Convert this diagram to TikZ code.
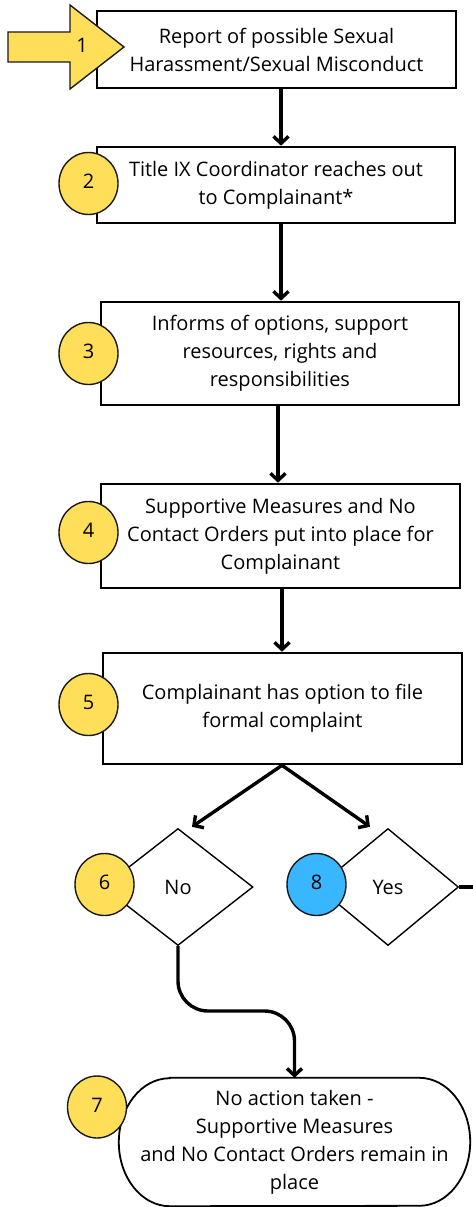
\documentclass[tikz,border=0pt]{standalone}
\usepackage{fontspec}
\setmainfont{Open Sans}
\usetikzlibrary{arrows.meta,shapes.geometric,calc}
\definecolor{ylw}{HTML}{FFDE59}
\definecolor{blu}{HTML}{38B6FF}
\definecolor{ink}{HTML}{1A1A1A}
\begin{document}
\begin{tikzpicture}[x=1pt,y=-1pt,
  font=\fontsize{20}{28}\selectfont,
  box/.style={draw=black,line width=2.6pt,fill=white,align=center,inner sep=0pt},
  num/.style={ellipse,draw=ink,line width=1.4pt,fill=ylw,minimum width=59pt,minimum height=62pt,inner sep=0pt,text depth=4pt},
  dec/.style={diamond,draw=black,line width=1.4pt,fill=white,inner sep=0pt,minimum height=117pt},
  arr/.style={line width=3.4pt,-{Straight Barb[length=7pt,width=15pt]}},
  ]
\useasboundingbox (0,0) rectangle (472,1207);
\fill[white] (0,0) rectangle (472,1207);

% boxes
\node[box,minimum width=359pt,minimum height=77pt] (b1) at (276.5,49.5) {Report of possible Sexual\\Harassment/Sexual Misconduct};
\node[box,minimum width=358pt,minimum height=76pt] (b2) at (276,185) {Title IX Coordinator reaches out\\to Complainant*};
\node[box,minimum width=358pt,minimum height=103pt] (b3) at (280,353.5) {Informs of options, support\\resources, rights and\\responsibilities};
\node[box,minimum width=359pt,minimum height=104pt] (b4) at (280.5,536) {Supportive Measures and No\\Contact Orders put into place for\\Complainant};
\node[box,minimum width=359pt,minimum height=111pt] (b5) at (282.5,708.5) {Complainant has option to file\\formal complaint};

% decisions
\node[dec,minimum width=150pt] (d6) at (178,887) {No};
\node[dec,minimum width=141pt] (d8) at (388,887) {Yes};

% terminal
\node[align=center,minimum width=351pt,minimum height=128pt,inner sep=0pt] (st) at (294.5,1142) {No action taken -\\Supportive Measures\\and No Contact Orders remain in\\place};
\draw[line width=1.8pt] ([xshift=51pt]st.north west) -- ([xshift=-51pt]st.north east)
  arc[start angle=90,end angle=-90,x radius=51pt,y radius=64pt]
  -- ([xshift=51pt]st.south west)
  arc[start angle=270,end angle=90,x radius=51pt,y radius=64pt] -- cycle;

% start arrow
\draw[fill=ylw,draw=ink,line width=1.4pt] (8,32) -- (70,32) -- (70,5) -- (124,47) -- (70,89) -- (70,62) -- (8,62) -- cycle;
\node (n1) at (82,45) {1};

% number badges
\node[num] (n2) at (88.5,183.5) {2};
\node[num] (n3) at (88.5,353.5) {3};
\node[num] (n4) at (88.5,532.5) {4};
\node[num] (n5) at (88.5,704.5) {5};
\node[num] (n6) at (104.5,884.5) {6};
\node[num,fill=blu] (n8) at (316.5,884.5) {8};
\node[num] (n7) at (97,1107) {7};

% connectors
\draw[arr] ([xshift=4.5pt]b1.south) -- ([xshift=5pt]b2.north);
\draw[arr] ([xshift=5pt]b2.south) -- ([xshift=1pt]b3.north);
\draw[arr] ([xshift=-2pt]b3.south) -- ([xshift=-2.5pt]b4.north);
\draw[arr] ([xshift=1.5pt]b4.south) -- ([xshift=-0.5pt]b5.north);
\draw[arr] ([xshift=-0.5pt]b5.south) -- ([xshift=14pt,yshift=1pt]d6.north);
\draw[arr] ([xshift=-0.5pt]b5.south) -- ([xshift=-18pt,yshift=1pt]d8.north);
\coordinate (mid) at (235,1011);
\draw[arr,rounded corners=30pt] (d6.south) |- (mid) -| (st.north);
\coordinate (yesend) at (476,887);
\draw[line width=3.4pt] (d8.east) -- (yesend);
\end{tikzpicture}
\end{document}
